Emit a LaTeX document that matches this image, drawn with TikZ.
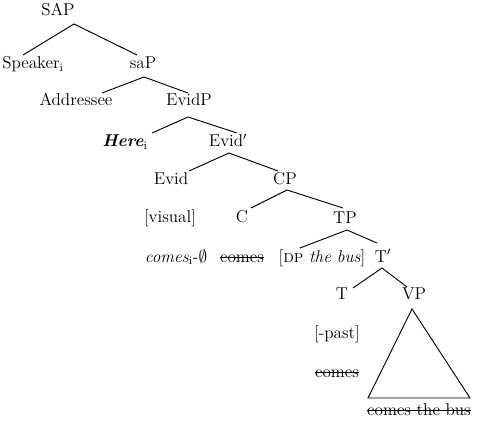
\documentclass[tikz,border=0pt]{standalone}

\newsavebox\strkbox
\newcommand\strk[1]{\sbox\strkbox{#1}\rlap{\rule[0.6ex]{\wd\strkbox}{0.6pt}}\usebox\strkbox}

\begin{document}
\begin{tikzpicture}[
    x=0.7pt, y=-0.7pt,
    label/.style={anchor=base, inner sep=0pt, font=\fontsize{12}{14}\selectfont},
    branch/.style={line width=0.65pt}
]
\useasboundingbox (0,0) rectangle (477,423);

% -------------------------
% Upper shell
% -------------------------
\node[label] (sap) at (58,16) {SAP};
\node[label] (speaker) at (33,69) {Speaker\textsubscript{i}};
\node[label] (sasmall) at (143,69) {saP};
\node[label] (addressee) at (76,106) {Addressee};
\node[label] (evidp) at (189,106) {EvidP};
\node[label] (here) at (125,147) {\textbf{\textit{Here}}\textsubscript{i}};
\node[label] (evidbar) at (228,147) {Evid$'$};
\node[label] (evid) at (171,185) {Evid};
\node[label] (cp) at (285,185) {CP};

% -------------------------
% Clause
% -------------------------
\node[label] (visual) at (170,222) {[visual]};
\node[label] (c) at (242,222) {C};
\node[label] (tp) at (345,223) {TP};
\node[label] (evcomes) at (176,262) {\textit{comes}\textsubscript{i}-$\emptyset$};
\node[label] (ccomes) at (242,262) {\strk{comes}};
\node[label] (dp) at (322,262) {[\textsc{dp} \textit{the bus}]};
\node[label] (tbar) at (383,262) {T$'$};
\node[label] (t) at (342,299) {T};
\node[label] (vp) at (414,299) {VP};
\node[label] (past) at (337,338) {[-past]};
\node[label] (tcomes) at (337,377) {\strk{comes}};
\node[label] (vpbody) at (419,415) {\strk{comes the bus}};

% -------------------------
% Branches
% -------------------------
\draw[branch] ([shift={(-10,-14)}]speaker.base) -- ([shift={(16,8)}]sap.base)
    -- ([shift={(-6,-14)}]sasmall.base);
\draw[branch] ([shift={(26,-13)}]addressee.base) -- ([shift={(1,8)}]sasmall.base)
    -- ([shift={(-1,-13)}]evidp.base);
\draw[branch] ([shift={(27,-14)}]here.base) -- ([shift={(-1,11)}]evidp.base)
    -- ([shift={(9,-14)}]evidbar.base);
\draw[branch] ([shift={(18,-14)}]evid.base) -- ([shift={(1,6)}]evidbar.base)
    -- ([shift={(-7,-14)}]cp.base);
\draw[branch] ([shift={(9,-14)}]c.base) -- ([shift={(2,5)}]cp.base)
    -- ([shift={(-2,-15)}]tp.base);
\draw[branch] ([shift={(-22,-14)}]dp.base) -- ([shift={(2,7)}]tp.base)
    -- ([shift={(-6,-19)}]tbar.base);
\draw[branch] ([shift={(11,-11)}]t.base) -- ([shift={(-1,6)}]tbar.base)
    -- ([shift={(-7,-12)}]vp.base);

% VP triangle
\draw[branch] ([shift={(-2,10)}]vp.base) -- ([shift={(-51,-17)}]vpbody.base)
    -- ([shift={(51,-17)}]vpbody.base) -- cycle;

\end{tikzpicture}
\end{document}
